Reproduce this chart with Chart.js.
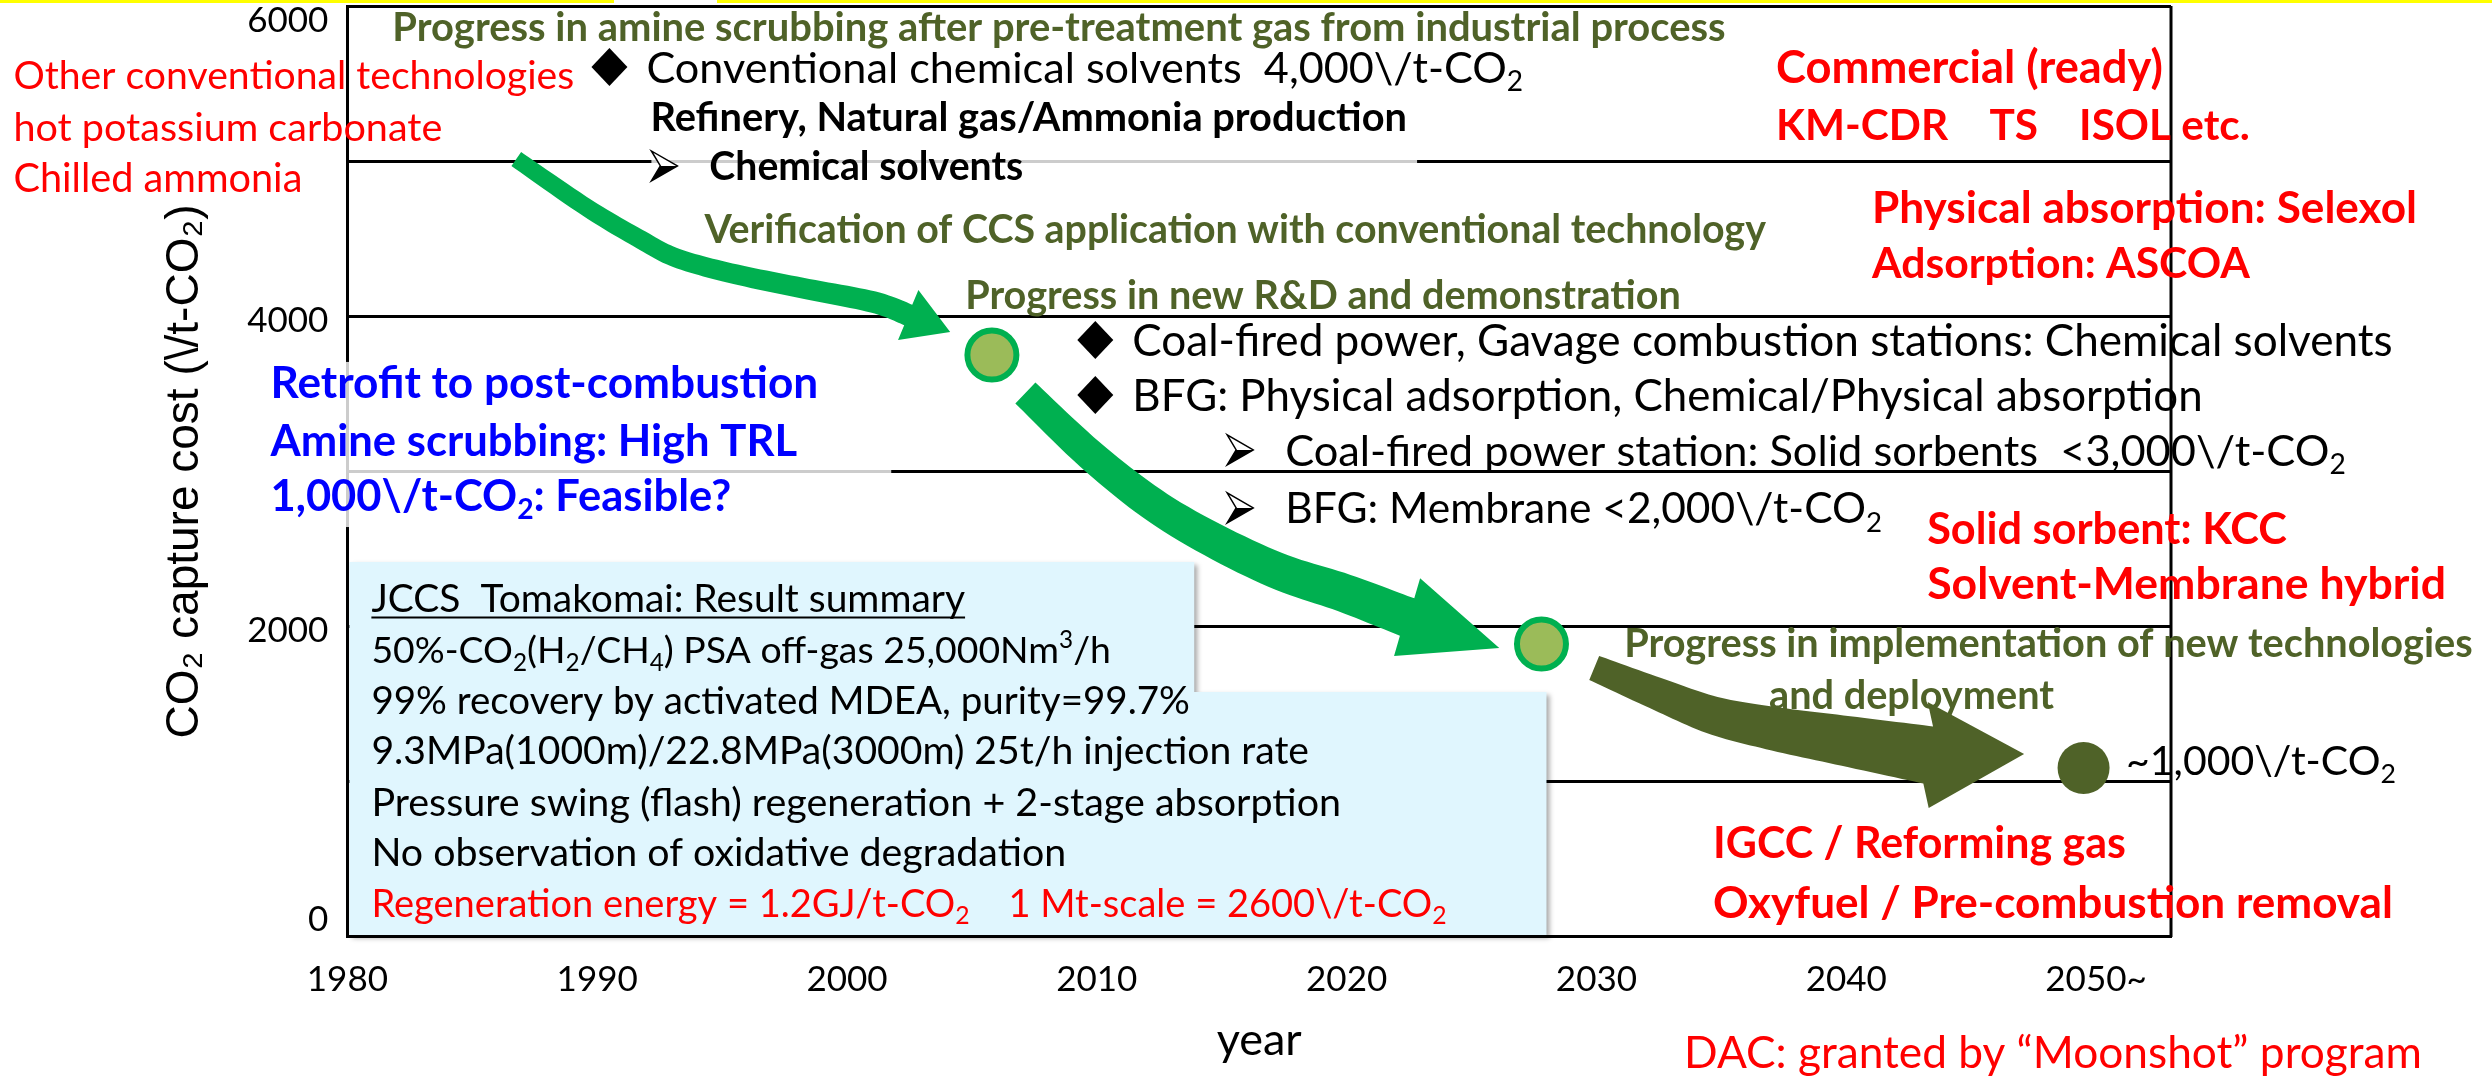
<!DOCTYPE html>
<html>
<head>
<meta charset="utf-8">
<script src="https://cdn.jsdelivr.net/npm/chart.js@4.4.1/dist/chart.umd.min.js"></script>
<style>
  html, body { margin: 0; padding: 0; background: #fff; overflow: hidden; }
  .band { position: absolute; top: 0; height: 3px; background: #ffff00; }
</style>
</head>
<body>
<canvas id="chart" width="2492" height="1077"></canvas>
<div class="band" style="left:0;width:614px"></div>
<div class="band" style="left:717px;width:1775px"></div>
<script>
// axis ticks
const xTicks = [1980, 1990, 2000, 2010, 2020, 2030, 2040, 2050];
const xTickLabels = ['1980', '1990', '2000', '2010', '2020', '2030', '2040', '2050~'];
const yTickLabels = [0, 2000, 4000, 6000];

// milestones (year, capture cost)
const milestoneYears = [2005.8, 2027.8, 2049.5];
const milestoneCosts = [3751, 1888, 1089];

// arrow paths, the last point is the tip of the arrow head
const arrow1Years = [1986.76, 1989.61, 1991.77, 1993.17, 1995.33, 1998.17, 2001.05, 2002.45, 2004.13];
const arrow1Costs = [5014, 4698, 4492, 4376, 4279, 4183, 4092, 4009, 3899];
const arrow2Years = [2007.14, 2009.98, 2013.02, 2016.86, 2019.90, 2022.42, 2026.11];
const arrow2Costs = [3506, 3074, 2707, 2385, 2217, 2062, 1863];
const arrow3Years = [2029.91, 2032.35, 2034.63, 2036.95, 2039.99, 2043.28, 2047.12];
const arrow3Costs = [1734, 1573, 1431, 1347, 1263, 1173, 1179];

// annotations: _x = subscript, ^x = superscript
// x = where the line starts, x2 = where it ends (years), y = line centre (cost)
const notes = [
  { text: 'Progress in amine scrubbing after pre-treatment gas from industrial process', x: 1981.8, x2: 2035.19, y: 5865, style: 'olive' },
  { text: 'Conventional chemical solvents  4,000\\/t-CO_2', x: 1991.97, x2: 2027.07, y: 5607, style: 'black', bullet: 'diamond' },
  { text: 'Refinery, Natural gas/Ammonia production', x: 1992.13, x2: 2022.42, y: 5285, style: 'blackBold' },
  { text: 'Chemical solvents', x: 1994.49, x2: 2007.06, y: 4969, style: 'blackBold', bullet: 'arrow' },
  { text: 'Verification of CCS application with conventional technology', x: 1994.29, x2: 2036.79, y: 4563, style: 'olive' },
  { text: 'Progress in new R&D and demonstration', x: 2004.73, x2: 2033.39, y: 4138, style: 'olive' },
  { text: 'Coal-fired power, Gavage combustion stations: Chemical solvents', x: 2011.42, x2: 2061.89, y: 3848, style: 'black', bullet: 'diamond' },
  { text: 'BFG: Physical adsorption, Chemical/Physical absorption', x: 2011.42, x2: 2054.28, y: 3493, style: 'black', bullet: 'diamond' },
  { text: 'Coal-fired power station: Solid sorbents  <3,000\\/t-CO_2', x: 2017.54, x2: 2060.01, y: 3139, style: 'black', bullet: 'arrow' },
  { text: 'BFG: Membrane <2,000\\/t-CO_2', x: 2017.54, x2: 2041.43, y: 2765, style: 'black', bullet: 'arrow' },
  { text: 'Commercial (ready)', x: 2037.19, x2: 2052.68, y: 5607, style: 'red' },
  { text: 'KM-CDR    TS    ISOL etc.', x: 2037.19, x2: 2056.16, y: 5233, style: 'red' },
  { text: 'Physical absorption: Selexol', x: 2041.03, x2: 2062.85, y: 4705, style: 'red' },
  { text: 'Adsorption: ASCOA', x: 2041.03, x2: 2056.16, y: 4344, style: 'red' },
  { text: 'Solid sorbent: KCC', x: 2043.24, x2: 2057.64, y: 2636, style: 'red' },
  { text: 'Solvent-Membrane hybrid', x: 2043.24, x2: 2064.01, y: 2281, style: 'red' },
  { text: 'Progress in implementation of new technologies', x: 2031.11, x2: 2065.09, y: 1895, style: 'olive' },
  { text: 'and deployment', x: 2036.91, x2: 2048.32, y: 1560, style: 'olive' },
  { text: '~1,000\\/t-CO_2', x: 2051.2, x2: 2062.01, y: 1141, style: 'black' },
  { text: 'IGCC / Reforming gas', x: 2034.67, x2: 2051.2, y: 606, style: 'red' },
  { text: 'Oxyfuel / Pre-combustion removal', x: 2034.67, x2: 2061.89, y: 226, style: 'red' },
  { text: 'DAC: granted by \u201cMoonshot\u201d program', x: 2033.51, x2: 2063.05, y: -741, style: 'redPlain' },
  { text: 'Other conventional technologies', x: 1966.63, x2: 1989.09, y: 5555, style: 'redPlain' },
  { text: 'hot potassium carbonate', x: 1966.63, x2: 1983.8, y: 5220, style: 'redPlain' },
  { text: 'Chilled ammonia', x: 1966.63, x2: 1978.2, y: 4891, style: 'redPlain' },
  { text: 'Retrofit to post-combustion', x: 1976.92, x2: 1998.85, y: 3577, style: 'blue' },
  { text: 'Amine scrubbing: High TRL', x: 1976.92, x2: 1998.01, y: 3203, style: 'blue' },
  { text: '1,000\\/t-CO_2: Feasible?', x: 1976.92, x2: 1995.37, y: 2849, style: 'blue' },
  { text: 'JCCS  Tomakomai: Result summary', x: 1980.96, x2: 2004.73, y: 2185, style: 'box', underline: true },
  { text: '50%-CO_2(H_2/CH_4) PSA off-gas 25,000Nm^3/h', x: 1980.96, x2: 2010.58, y: 1850, style: 'box' },
  { text: '99% recovery by activated MDEA, purity=99.7%', x: 1980.96, x2: 2013.74, y: 1527, style: 'box' },
  { text: '9.3MPa(1000m)/22.8MPa(3000m) 25t/h injection rate', x: 1980.96, x2: 2018.5, y: 1205, style: 'box' },
  { text: 'Pressure swing (flash) regeneration + 2-stage absorption', x: 1980.96, x2: 2019.78, y: 870, style: 'box' },
  { text: 'No observation of oxidative degradation', x: 1980.96, x2: 2008.78, y: 548, style: 'box' },
  { text: 'Regeneration energy = 1.2GJ/t-CO_2    1 Mt-scale = 2600\\/t-CO_2', x: 1980.96, x2: 2024.02, y: 219, style: 'boxRed' }
];

const styles = {
  olive:     { size: 40, weight: 'bold',   color: '#4F6228' },
  black:     { size: 44, weight: 'normal', color: '#000000' },
  blackBold: { size: 40, weight: 'bold',   color: '#000000' },
  red:       { size: 45, weight: 'bold',   color: '#FF0000' },
  redPlain:  { size: 43, weight: 'normal', color: '#FF0000' },
  blue:      { size: 45, weight: 'bold',   color: '#0000FF' },
  box:       { size: 38, weight: 'normal', color: '#000000' },
  boxRed:    { size: 38, weight: 'normal', color: '#FF0000' }
};

// summary box (two overlapping rectangles) and white veils behind some text, in axis units
const summaryBox = [[1980.08, 2417, 2013.9, 1540], [1980.08, 1579, 2028.0, 13]];
const veils = [[1976.6, 3706, 2001.77, 2642], [1992.17, 5136, 2022.82, 4814]];

function toPx(chart, x, y) {
  return { x: chart.scales.x.getPixelForValue(x), y: chart.scales.y.getPixelForValue(y) };
}

function richParts(str, size) {
  return str.split(/([_^].)/).filter(p => p).map(p => {
    if (p.length === 2 && p[0] === '_') return { t: p[1], s: size * 0.65, dy: size * 0.2 };
    if (p.length === 2 && p[0] === '^') return { t: p[1], s: size * 0.65, dy: -size * 0.4 };
    return { t: p, s: size, dy: 0 };
  });
}

function richWidth(ctx, str, size, weight) {
  let w = 0;
  richParts(str, size).forEach(p => {
    ctx.font = weight + ' ' + p.s + 'px Lato';
    w += ctx.measureText(p.t).width;
  });
  return w;
}

function drawRich(ctx, str, x, y, size, weight, color) {
  const base = y + size * 0.36;
  let cx = x;
  ctx.fillStyle = color;
  richParts(str, size).forEach(p => {
    ctx.font = weight + ' ' + p.s + 'px Lato';
    ctx.fillText(p.t, cx, base + p.dy);
    cx += ctx.measureText(p.t).width;
  });
  return cx - x;
}

function drawBullet(ctx, kind, x, y) {
  ctx.fillStyle = '#000';
  ctx.strokeStyle = '#000';
  if (kind === 'diamond') {
    const cx = x - 37;
    ctx.beginPath();
    ctx.moveTo(cx, y - 19); ctx.lineTo(cx + 18, y); ctx.lineTo(cx, y + 19); ctx.lineTo(cx - 18, y);
    ctx.closePath(); ctx.fill();
  } else {
    const cx = x - 45;
    ctx.lineWidth = 1.5;
    ctx.beginPath();
    ctx.moveTo(cx + 13, y); ctx.lineTo(cx - 13, y - 15); ctx.lineTo(cx - 4, y); ctx.lineTo(cx - 13, y + 15);
    ctx.closePath(); ctx.fillStyle = '#fff'; ctx.fill(); ctx.stroke();
    ctx.beginPath();
    ctx.moveTo(cx + 13, y); ctx.lineTo(cx - 4, y); ctx.lineTo(cx - 13, y + 15);
    ctx.closePath(); ctx.fillStyle = '#000'; ctx.fill();
  }
}

// smooth path through pixel points (Catmull-Rom)
function spline(pts, steps) {
  const out = [];
  for (let i = 0; i < pts.length - 1; i++) {
    const p0 = pts[Math.max(i - 1, 0)], p1 = pts[i], p2 = pts[i + 1], p3 = pts[Math.min(i + 2, pts.length - 1)];
    for (let s = 0; s < steps; s++) {
      const t = s / steps, t2 = t * t, t3 = t2 * t;
      const f = (a, b, c, d) => 0.5 * (2 * b + (-a + c) * t + (2 * a - 5 * b + 4 * c - d) * t2 + (-a + 3 * b - 3 * c + d) * t3);
      out.push({ x: f(p0.x, p1.x, p2.x, p3.x), y: f(p0.y, p1.y, p2.y, p3.y) });
    }
  }
  out.push(pts[pts.length - 1]);
  return out;
}

function drawArrow(chart, meta, color, w0, w1, headHalf) {
  const ctx = chart.ctx;
  const all = meta.data.map(p => ({ x: p.x, y: p.y }));
  const tip = all[all.length - 1];
  const path = spline(all.slice(0, -1), 12);
  let total = 0;
  const dist = [0];
  for (let i = 1; i < path.length; i++) {
    total += Math.hypot(path[i].x - path[i - 1].x, path[i].y - path[i - 1].y);
    dist.push(total);
  }
  const left = [], right = [];
  path.forEach((p, i) => {
    const a = path[Math.max(i - 1, 0)], b = path[Math.min(i + 1, path.length - 1)];
    const len = Math.hypot(b.x - a.x, b.y - a.y) || 1;
    const nx = -(b.y - a.y) / len, ny = (b.x - a.x) / len;
    const w = (w0 + (w1 - w0) * dist[i] / total) / 2;
    left.push({ x: p.x + nx * w, y: p.y + ny * w });
    right.push({ x: p.x - nx * w, y: p.y - ny * w });
  });
  const base = path[path.length - 1];
  const dl = Math.hypot(tip.x - base.x, tip.y - base.y);
  const hx = -(tip.y - base.y) / dl * headHalf, hy = (tip.x - base.x) / dl * headHalf;
  ctx.beginPath();
  left.forEach((p, i) => i ? ctx.lineTo(p.x, p.y) : ctx.moveTo(p.x, p.y));
  ctx.lineTo(base.x + hx, base.y + hy);
  ctx.lineTo(tip.x, tip.y);
  ctx.lineTo(base.x - hx, base.y - hy);
  for (let i = right.length - 1; i >= 0; i--) ctx.lineTo(right[i].x, right[i].y);
  ctx.closePath();
  ctx.fillStyle = color;
  ctx.fill();
}

const decorPlugin = {
  id: 'decor',
  beforeDatasetsDraw(chart) {
    const ctx = chart.ctx;
    const area = chart.chartArea;
    ctx.save();
    // right frame line
    ctx.strokeStyle = '#000';
    ctx.lineWidth = 3;
    ctx.beginPath();
    ctx.moveTo(area.right, area.top);
    ctx.lineTo(area.right, area.bottom);
    ctx.stroke();

    ctx.fillStyle = 'rgba(255,255,255,0.8)';
    veils.forEach(v => {
      const a = toPx(chart, v[0], v[1]), b = toPx(chart, v[2], v[3]);
      ctx.fillRect(a.x, a.y, b.x - a.x, b.y - a.y);
    });

    ctx.shadowColor = 'rgba(0,0,0,0.35)';
    ctx.shadowBlur = 5;
    ctx.shadowOffsetX = 3;
    ctx.shadowOffsetY = 3;
    ctx.fillStyle = '#E0F6FE';
    ctx.beginPath();
    summaryBox.forEach(r => {
      const a = toPx(chart, r[0], r[1]), b = toPx(chart, r[2], r[3]);
      ctx.rect(a.x, a.y, b.x - a.x, b.y - a.y);
    });
    ctx.fill();
    ctx.restore();

    ctx.save();
    drawArrow(chart, chart.getDatasetMeta(1), '#00B050', 17, 22, 27);
    drawArrow(chart, chart.getDatasetMeta(2), '#00B050', 29, 40, 41);
    drawArrow(chart, chart.getDatasetMeta(3), '#4F6228', 26, 58, 53);
    ctx.restore();
  },
  afterDatasetsDraw(chart) {
    const ctx = chart.ctx;
    ctx.save();
    ctx.textAlign = 'left';
    ctx.textBaseline = 'alphabetic';
    notes.forEach(n => {
      const st = styles[n.style];
      const p = toPx(chart, n.x, n.y);
      const end = chart.scales.x.getPixelForValue(n.x2);
      // fit the line to the width it has in the original slide
      const size = st.size * (end - p.x) / richWidth(ctx, n.text, st.size, st.weight);
      if (n.bullet) drawBullet(ctx, n.bullet, p.x, p.y);
      const w = drawRich(ctx, n.text, p.x, p.y, size, st.weight, st.color);
      if (n.underline) {
        ctx.strokeStyle = st.color;
        ctx.lineWidth = 2;
        ctx.beginPath();
        ctx.moveTo(p.x, p.y + size * 0.5);
        ctx.lineTo(p.x + w, p.y + size * 0.5);
        ctx.stroke();
      }
    });
    ctx.restore();
  }
};

const xy = (xs, ys) => xs.map((x, i) => ({ x: x, y: ys[i] }));

// the slide keeps the end labels inside the frame: pad them with empty lines
function yLabel(v) {
  if (!yTickLabels.includes(v)) return '';
  if (v === 6000) return ['', '', String(v)];
  if (v === 0) return [String(v), '', '', '', ''];
  return String(v);
}

Chart.defaults.font.family = 'Lato';
Chart.defaults.color = '#000';

new Chart(document.getElementById('chart'), {
  type: 'scatter',
  data: {
    datasets: [
      {
        label: 'milestones',
        data: xy(milestoneYears, milestoneCosts),
        pointRadius: [24.5, 24.5, 26],
        pointBackgroundColor: ['#9BBB59', '#9BBB59', '#4F6228'],
        pointBorderColor: ['#00B050', '#00B050', '#4F6228'],
        pointBorderWidth: [6, 6, 0]
      },
      { label: 'arrow1', data: xy(arrow1Years, arrow1Costs), pointRadius: 0, showLine: false },
      { label: 'arrow2', data: xy(arrow2Years, arrow2Costs), pointRadius: 0, showLine: false },
      { label: 'arrow3', data: xy(arrow3Years, arrow3Costs), pointRadius: 0, showLine: false }
    ]
  },
  options: {
    responsive: false,
    animation: false,
    events: [],
    layout: { autoPadding: false, padding: { left: 156, top: 6, right: 321, bottom: 20 } },
    plugins: { legend: { display: false }, tooltip: { enabled: false } },
    scales: {
      x: {
        type: 'linear',
        min: 1980,
        max: 2053,
        afterBuildTicks: scale => { scale.ticks = xTicks.map(v => ({ value: v })); },
        ticks: {
          autoSkip: false,
          maxRotation: 0,
          padding: 22,
          font: { size: 35 },
          callback: v => xTickLabels[xTicks.indexOf(v)]
        },
        grid: { display: false, drawTicks: false },
        border: { color: '#000', width: 3 },
        title: { display: true, text: 'year', font: { size: 45, lineHeight: 0.756 }, padding: 0 }
      },
      y: {
        min: 0,
        max: 6000,
        afterFit: scale => { scale.paddingTop = 0; scale.paddingBottom = 0; },
        ticks: {
          stepSize: 1000,
          padding: 0,
          labelOffset: 4,
          font: { size: 35, lineHeight: 0.3 },
          callback: yLabel
        },
        grid: { color: '#000', lineWidth: 3, drawTicks: true, tickLength: 19, tickColor: 'rgba(0,0,0,0)' },
        border: { color: '#000', width: 3 },
        title: {
          display: true,
          text: 'CO\u2082 capture cost (\\/t-CO\u2082)',
          font: { family: 'Liberation Sans', size: 46 },
          padding: { top: 2, bottom: 34 }
        }
      }
    }
  },
  plugins: [decorPlugin]
});
</script>
</body>
</html>
